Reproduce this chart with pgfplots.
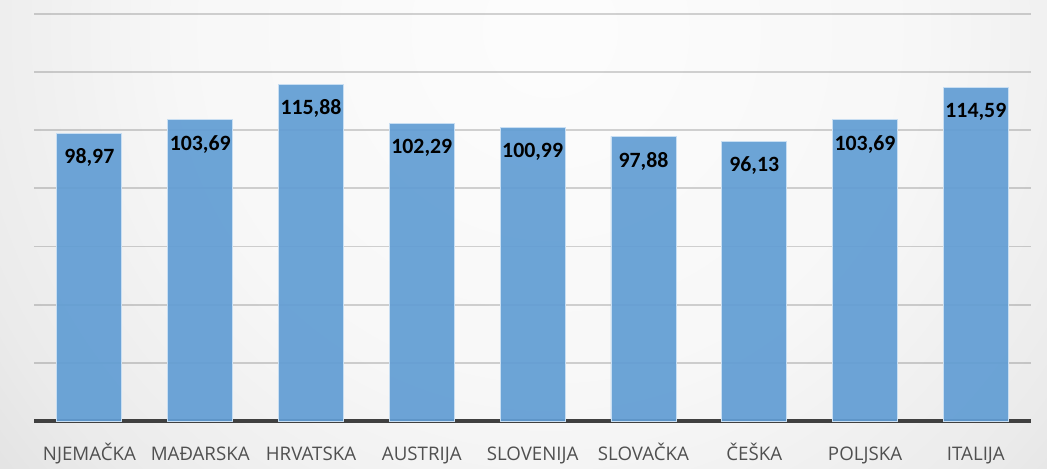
\documentclass[border=0pt]{standalone}
\usepackage{fontspec}
\setmainfont{Carlito}
\newfontfamily\labelfont{Open Sans}
\usepackage{pgfplots}
\pgfplotsset{compat=1.18}
\definecolor{barblue}{RGB}{97,157,212}
\definecolor{baredge}{RGB}{200,222,242}
\definecolor{axisdark}{RGB}{64,64,64}
\definecolor{ticktext}{RGB}{80,80,80}
% background: light spot near the top middle, grey towards the edges
\pgfdeclareradialshading{bgshade}{\pgfpoint{0bp}{0bp}}{%
  color(0bp)=(white!99!black); color(13bp)=(white!97!black); color(22bp)=(white!92!black);
  color(30bp)=(white!85!black); color(35bp)=(white!80.5!black); color(43bp)=(white!77!black);
  color(50bp)=(white!74!black)}
\def\px{0.025cm}
\begin{document}
\begin{tikzpicture}
\begin{scope}
  \clip (-34*\px,-47*\px) rectangle (1013*\px,421*\px);
  \shade[shading=bgshade] (-184*\px,-309*\px) rectangle (1216*\px,1091*\px);
\end{scope}
\begin{axis}[
  at={(0,0)}, anchor=south west,
  scale only axis, width=24.925cm, height=10.175cm,
  ybar, bar width=1.625cm,
  ymin=0, ymax=140, xmin=-0.5, xmax=8.5, enlargelimits=false,
  xtick=data,
  xticklabels={NJEMAČKA, MAĐARSKA, HRVATSKA, AUSTRIJA, SLOVENIJA, SLOVAČKA, ČEŠKA, POLJSKA, ITALIJA},
  ytick={20,40,...,140}, yticklabels={},
  ymajorgrids, grid style={black, opacity=0.17, line width=1.3pt},
  axis x line*=bottom, axis y line*=left,
  y axis line style={draw=none}, ytick style={draw=none}, xtick style={draw=none},
  x axis line style={axisdark, line width=2.2pt, -},
  xticklabel style={font=\labelfont\fontsize{13.3}{15}\selectfont, text=ticktext, anchor=base, yshift=-24pt},
  nodes near coords,
  nodes near coords style={font=\bfseries\fontsize{15.5}{17}\selectfont, text=black, text opacity=1, anchor=north, yshift=-7.5pt},
  /pgf/number format/.cd, use comma, fixed, fixed zerofill, precision=2, assume math mode=true,
]
\addplot[fill=barblue, fill opacity=0.92, draw=baredge, line width=0.6pt] coordinates {
  (0,98.97) (1,103.69) (2,115.88) (3,102.29) (4,100.99)
  (5,97.88) (6,96.13) (7,103.69) (8,114.59)};
\end{axis}
\pgfresetboundingbox
\useasboundingbox (-34*\px,-47*\px) rectangle (1013*\px,421*\px);
\end{tikzpicture}
\end{document}
